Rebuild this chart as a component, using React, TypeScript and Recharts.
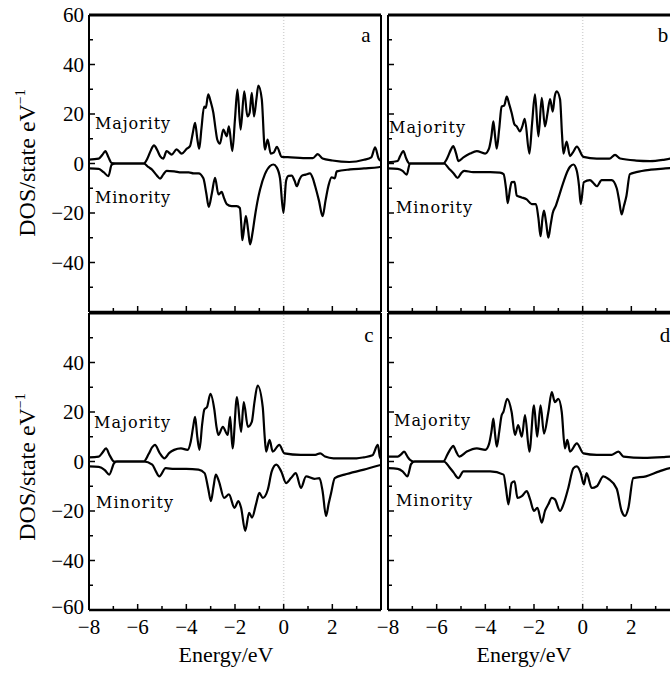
import React from 'react';
import { LineChart, Line, XAxis, YAxis, ReferenceLine } from 'recharts';

// ---------- axis ticks ----------
const X_TICKS = [-8, -7, -6, -5, -4, -3, -2, -1, 0, 1, 2, 3, 4];
const Y_TICKS = [-60, -50, -40, -30, -20, -10, 0, 10, 20, 30, 40, 50, 60];
const PANEL_LETTERS = ['a', 'b', 'c', 'd'];
const SERIES_NAMES = ['Majority', 'Minority'];
const X_TITLE = 'Energy/eV';
const Y_TITLE = 'DOS/state eV';

// ---------- panel a ----------
const aMajE = [-8.0, -7.6, -7.45, -7.33, -7.2, -7.07, -6.9, -5.75, -5.6, -5.45, -5.33, -5.2, -5.08, -4.95, -4.81, -4.6, -4.4, -4.19, -3.98, -3.85, -3.74, -3.64, -3.55, -3.47, -3.38, -3.27, -3.2, -3.1, -3.0, -2.89, -2.8, -2.73, -2.62, -2.48, -2.34, -2.25, -2.11, -2.0, -1.9, -1.77, -1.62, -1.49, -1.4, -1.31, -1.22, -1.12, -1.04, -0.9, -0.77, -0.66, -0.53, -0.4, -0.28, -0.08, 0.3, 0.8, 1.2, 1.4, 1.6, 2.0, 2.7, 3.3, 3.6, 3.76, 3.9, 4.0];
const aMajV = [1.6, 2.0, 3.5, 5.0, 2.5, 0.2, 0, 0, 2, 5.5, 7.3, 5.5, 3, 2, 5, 3.6, 5.7, 4, 6, 7, 12, 16.4, 10, 6, 14, 23, 22.5, 27.9, 25, 20.5, 14, 9.7, 8, 13.7, 11, 15, 5, 18, 29.9, 13.7, 29.2, 19, 20.5, 28.5, 19, 26, 31.5, 26, 5.6, 9.7, 4, 4.5, 6.7, 2.7, 2.5, 2.2, 2.2, 3.8, 2, 1.2, 0.6, 1.5, 2.5, 6.5, 2, 1];
const aMinE = [-8.0, -7.6, -7.4, -7.2, -7.07, -6.9, -5.75, -5.55, -5.42, -5.2, -5.08, -4.95, -4.81, -4.5, -4.2, -3.9, -3.7, -3.5, -3.3, -3.18, -3.08, -2.95, -2.82, -2.68, -2.55, -2.45, -2.34, -2.14, -1.93, -1.8, -1.74, -1.7, -1.6, -1.55, -1.46, -1.38, -1.28, -1.18, -1.05, -0.97, -0.77, -0.56, -0.42, -0.29, -0.15, -0.01, 0.1, 0.2, 0.33, 0.45, 0.54, 0.65, 0.74, 0.9, 1.08, 1.2, 1.29, 1.45, 1.6, 1.72, 1.84, 1.97, 2.1, 2.18, 2.73, 3.3, 3.9, 4.0];
const aMinV = [-2, -2.2, -3.5, -5.1, -0.5, 0, 0, -1.5, -2.4, -5, -6.1, -4.5, -3, -3.2, -3.6, -3.6, -4, -4, -6, -12, -17.5, -12, -5.8, -12.5, -11.5, -14, -16.4, -17.2, -17.2, -18, -25, -31, -24, -21.3, -27, -32.7, -28, -21.3, -14, -10.5, -4.3, -1, -0.4, -1.5, -6, -20, -7, -5, -4.9, -7, -9.2, -6.5, -5, -4.5, -4, -6, -9, -15, -21.3, -15, -9, -5.6, -6, -3.2, -2.4, -2, -1.5, -1.3];

// ---------- panel b ----------
const bMajE = [-8.0, -7.6, -7.5, -7.37, -7.25, -7.12, -5.73, -5.55, -5.42, -5.32, -5.2, -5.11, -4.9, -4.63, -4.35, -4.01, -3.85, -3.75, -3.67, -3.6, -3.53, -3.43, -3.33, -3.22, -3.12, -3.02, -2.92, -2.81, -2.71, -2.58, -2.48, -2.38, -2.19, -2.08, -1.96, -1.82, -1.68, -1.55, -1.45, -1.34, -1.23, -1.15, -1.07, -0.93, -0.85, -0.79, -0.66, -0.52, -0.4, -0.24, 0.03, 0.58, 1.1, 1.33, 1.54, 2.2, 2.77, 3.3, 3.6, 3.76, 3.9, 4.0];
const bMajV = [0.5, 1, 3, 5, 2, 0, 0, 2.5, 5.5, 7, 4, 1, 2.5, 4, 5, 4, 6, 11, 17, 11, 6, 14, 23, 23.5, 27, 24, 20.5, 16, 15, 13, 15, 18, 4, 16, 27.9, 11, 26.5, 15, 20, 26, 21, 27, 29.2, 26, 12, 4, 8.8, 3, 4.5, 6.8, 2.7, 2, 2, 3.5, 2, 1.2, 1, 1.5, 2, 6, 2, 1];
const bMinE = [-8.0, -7.6, -7.4, -7.23, -7.1, -5.7, -5.5, -5.3, -5.14, -5.0, -4.87, -4.5, -3.8, -3.4, -3.25, -3.15, -3.08, -2.98, -2.92, -2.8, -2.71, -2.51, -2.3, -2.09, -1.92, -1.82, -1.73, -1.65, -1.59, -1.5, -1.41, -1.32, -1.23, -1.1, -1.0, -0.79, -0.62, -0.52, -0.38, -0.24, -0.15, -0.08, 0.05, 0.3, 0.45, 0.58, 0.78, 1.19, 1.4, 1.5, 1.6, 1.7, 1.8, 1.94, 2.2, 2.8, 3.4, 4.0];
const bMinV = [-2, -2.2, -3, -4.5, 0, 0, -2, -4, -5.8, -4, -3, -3.5, -3.5, -3.7, -4.3, -10, -16, -10, -7.5, -7.4, -13, -13.7, -14.5, -16.4, -16.4, -22, -29.4, -22, -19, -24, -30, -25, -20, -17, -14, -7.5, -3, -1.3, -0.4, -3, -9, -16.4, -7.5, -6.7, -8, -9.2, -6.7, -6.7, -10, -15, -20.6, -17, -13, -4.3, -3.5, -2.5, -2, -1.5];

// ---------- panel c ----------
const cMajE = [-8.0, -7.6, -7.45, -7.3, -7.15, -6.97, -5.75, -5.55, -5.4, -5.29, -5.1, -4.9, -4.7, -4.5, -4.22, -3.95, -3.82, -3.72, -3.64, -3.55, -3.46, -3.35, -3.26, -3.15, -3.01, -2.85, -2.76, -2.68, -2.5, -2.3, -2.2, -2.1, -1.92, -1.75, -1.64, -1.47, -1.31, -1.2, -1.07, -0.86, -0.78, -0.72, -0.58, -0.45, -0.18, 0.03, 0.7, 1.3, 1.5, 1.7, 2.05, 3.0, 3.3, 3.65, 3.87, 3.95, 4.0];
const cMajV = [1.7, 2, 3.5, 5.3, 2.5, 0, 0, 3, 5.8, 6.7, 3.5, 1.3, 3.5, 4.7, 5.3, 4.7, 8, 14, 18, 10, 4.7, 15, 21, 22, 27.3, 21, 14, 10.7, 14, 10.7, 18, 5.3, 26, 12, 24, 14, 16, 24, 30.7, 22, 10, 4, 8.7, 4, 6.7, 3.3, 2.7, 2.7, 3.3, 2, 1.3, 1.3, 1.7, 2.5, 6.7, 2, 1];
const cMinE = [-8.0, -7.6, -7.35, -7.17, -6.97, -6.85, -5.75, -5.4, -5.25, -5.11, -4.85, -4.5, -4.0, -3.5, -3.25, -3.1, -2.99, -2.88, -2.79, -2.66, -2.45, -2.25, -2.02, -1.86, -1.75, -1.58, -1.42, -1.3, -1.13, -1.0, -0.86, -0.65, -0.49, -0.3, -0.1, 0.1, 0.3, 0.5, 0.71, 0.92, 1.26, 1.47, 1.6, 1.74, 1.85, 1.95, 2.1, 2.5, 3.3, 3.9, 4.0];
const cMinV = [-2, -2.2, -3.5, -5.3, -0.7, 0, 0, -1.3, -4, -6, -2.7, -3, -3, -3.3, -4.7, -11, -16, -10, -5.3, -8, -14.7, -13.3, -18.7, -16, -18.7, -28, -20.7, -22.7, -17, -12.7, -14.7, -11.3, -4, -1.3, -4, -8.7, -6.7, -4.7, -10.7, -6, -7, -6.7, -12, -22, -17, -12.7, -6.7, -5.3, -3.3, -1.6, -1.4];

// ---------- panel d ----------
const dMajE = [-8.0, -7.6, -7.45, -7.34, -7.2, -7.1, -6.95, -5.73, -5.55, -5.4, -5.32, -5.2, -5.07, -4.76, -4.35, -4.0, -3.85, -3.75, -3.67, -3.6, -3.53, -3.43, -3.33, -3.26, -3.1, -2.92, -2.78, -2.65, -2.5, -2.37, -2.19, -2.0, -1.87, -1.73, -1.59, -1.41, -1.27, -1.14, -1.0, -0.86, -0.73, -0.63, -0.52, -0.24, 0.03, 0.58, 1.2, 1.47, 1.68, 2.5, 3.3, 3.6, 4.0];
const dMajV = [2, 2, 3, 4, 2, 0.7, 0, 0, 3, 5.5, 6.3, 4, 2, 4, 5.3, 4.7, 7, 12, 17.3, 11, 6, 12, 18.7, 20, 25.3, 20, 10.7, 14.7, 10, 18.7, 4, 22.7, 10, 22.7, 11.3, 20, 28, 24, 25.3, 20, 5.3, 8.7, 4, 7.3, 3.3, 2.7, 2.7, 4, 2, 1.5, 1.8, 2, 2];
const dMinE = [-8.0, -7.6, -7.4, -7.2, -7.05, -6.9, -5.7, -5.5, -5.3, -5.11, -4.9, -4.5, -3.8, -3.25, -3.15, -3.05, -2.92, -2.8, -2.68, -2.5, -2.3, -2.16, -2.0, -1.86, -1.68, -1.55, -1.41, -1.27, -1.14, -0.93, -0.79, -0.59, -0.38, -0.24, -0.08, 0.05, 0.16, 0.37, 0.58, 0.85, 1.05, 1.4, 1.6, 1.74, 1.88, 2.08, 2.6, 3.15, 3.6, 4.0];
const dMinV = [-2.7, -3, -4, -6, -1, 0, 0, -2, -4.5, -6.7, -4, -4, -4, -5.3, -11, -17.3, -8.7, -8, -14.7, -14, -12, -15.3, -20, -18.7, -24.7, -20, -17.3, -14.7, -15.3, -20, -17.3, -10.7, -2.7, -2, -4.7, -9.3, -4.7, -10.7, -10, -6, -7, -11, -20, -22, -18.7, -6.7, -6, -4, -2.7, -2.5];

const toPoints = (es: number[], vs: number[]) => es.map((e, i) => ({ e, v: vs[i] }));

const SERIF = '"Liberation Serif", "Times New Roman", Times, serif';
const LABEL_FONT = '"DejaVu Serif", serif';
const fmt = (v: number) => (v < 0 ? '\u2212' + Math.abs(v) : String(v));

// plot area size (px)
const PW = 292;
const PH = 297;
const YW = 70; // left y axis width
const MT = 15; // space above the plot
const MR = 10; // space right of the plot
const MB = 45; // space below the plot

function XTick(props: any) {
  const { x, y, payload, showLabel } = props;
  const v = payload.value;
  const major = v % 2 === 0;
  return (
    <g>
      <line x1={x} y1={y} x2={x} y2={y - (major ? 6 : 4)} stroke="#000" strokeWidth={1.5} />
      {showLabel && major && v < 4 ? (
        <text x={x} y={y + 24} textAnchor="middle" fontSize={21} fontFamily={SERIF} fill="#000">
          {fmt(v)}
        </text>
      ) : null}
    </g>
  );
}

function YTick(props: any) {
  const { x, y, payload, showLabel, skip } = props;
  const v = payload.value;
  const major = v % 20 === 0;
  return (
    <g>
      <line x1={x} y1={y} x2={x + (major ? 6 : 4)} y2={y} stroke="#000" strokeWidth={1.5} />
      {showLabel && major && v !== skip ? (
        <text x={x - 5} y={y} dy={v === -60 ? '0.2em' : '0.35em'} textAnchor="end" fontSize={21} fontFamily={SERIF} fill="#000">
          {fmt(v)}
        </text>
      ) : null}
    </g>
  );
}

type PanelProps = {
  plotLeft: number;
  plotTop: number;
  maj: { e: number; v: number }[];
  min: { e: number; v: number }[];
  showX: boolean;
  showY: boolean;
  skipY: number;
};

function Panel({ plotLeft, plotTop, maj, min, showX, showY, skipY }: PanelProps) {
  return (
    <div style={{ position: 'absolute', left: plotLeft - YW, top: plotTop - MT }}>
      <LineChart
        width={YW + PW + MR}
        height={MT + PH + MB}
        margin={{ top: MT - 1, right: MR - 1, bottom: MB - 1, left: 0 }}
      >
        <XAxis
          dataKey="e"
          type="number"
          domain={[-8, 4]}
          ticks={X_TICKS}
          interval={0}
          allowDataOverflow
          height={1}
          tickSize={0}
          tickMargin={0}
          tickLine={false}
          axisLine={{ stroke: '#000', strokeWidth: 2.5 }}
          tick={(p: any) => <XTick {...p} showLabel={showX} />}
        />
        <XAxis
          xAxisId="top"
          orientation="top"
          type="number"
          domain={[-8, 4]}
          height={1}
          tick={false}
          tickLine={false}
          axisLine={{ stroke: '#000', strokeWidth: 3 }}
        />
        <YAxis
          type="number"
          domain={[-60, 60]}
          ticks={Y_TICKS}
          interval={0}
          allowDataOverflow
          width={YW}
          tickSize={0}
          tickMargin={0}
          tickLine={false}
          axisLine={{ stroke: '#000', strokeWidth: 2 }}
          tick={(p: any) => <YTick {...p} showLabel={showY} skip={skipY} />}
        />
        <YAxis
          yAxisId="r"
          orientation="right"
          type="number"
          domain={[-60, 60]}
          width={1}
          tick={false}
          tickLine={false}
          axisLine={{ stroke: '#000', strokeWidth: 2 }}
        />
        <ReferenceLine x={0} stroke="#d4d4d4" strokeWidth={1.5} strokeDasharray="1 2" />
        <Line data={maj} dataKey="v" type="monotone" stroke="#000" strokeWidth={2.2} dot={false} isAnimationActive={false} />
        <Line data={min} dataKey="v" type="monotone" stroke="#000" strokeWidth={2.2} dot={false} isAnimationActive={false} />
      </LineChart>
    </div>
  );
}

export default function App() {
  const textStyle = { fontFamily: SERIF, fill: '#000' } as const;
  const lab = { fontSize: 16, fontFamily: LABEL_FONT, fill: '#000', lengthAdjust: 'spacing' } as const;
  return (
    <div style={{ position: 'absolute', left: 0, top: 0, width: 670, height: 673, overflow: 'hidden', background: '#fff' }}>
      <Panel plotLeft={89} plotTop={15} maj={toPoints(aMajE, aMajV)} min={toPoints(aMinE, aMinV)} showX={false} showY={true} skipY={-60} />
      <Panel plotLeft={388} plotTop={15} maj={toPoints(bMajE, bMajV)} min={toPoints(bMinE, bMinV)} showX={false} showY={false} skipY={-60} />
      <Panel plotLeft={89} plotTop={313} maj={toPoints(cMajE, cMajV)} min={toPoints(cMinE, cMinV)} showX={true} showY={true} skipY={60} />
      <Panel plotLeft={388} plotTop={313} maj={toPoints(dMajE, dMajV)} min={toPoints(dMinE, dMinV)} showX={true} showY={false} skipY={60} />
      <svg width={670} height={673} style={{ position: 'absolute', left: 0, top: 0, pointerEvents: 'none' }}>
        {/* panel letters */}
        <text x={366} y={42} textAnchor="middle" fontSize={21} {...textStyle}>{PANEL_LETTERS[0]}</text>
        <text x={663} y={42} textAnchor="middle" fontSize={21} {...textStyle}>{PANEL_LETTERS[1]}</text>
        <text x={369} y={342} textAnchor="middle" fontSize={21} {...textStyle}>{PANEL_LETTERS[2]}</text>
        <text x={665} y={342} textAnchor="middle" fontSize={21} {...textStyle}>{PANEL_LETTERS[3]}</text>
        {/* series labels */}
        <text x={95} y={129} textLength={75} {...lab}>{SERIES_NAMES[0]}</text>
        <text x={95} y={203} textLength={75} {...lab}>{SERIES_NAMES[1]}</text>
        <text x={389} y={133} textLength={76} {...lab}>{SERIES_NAMES[0]}</text>
        <text x={396} y={213} textLength={76} {...lab}>{SERIES_NAMES[1]}</text>
        <text x={94} y={428} textLength={76} {...lab}>{SERIES_NAMES[0]}</text>
        <text x={96} y={508} textLength={77} {...lab}>{SERIES_NAMES[1]}</text>
        <text x={394} y={426} textLength={76} {...lab}>{SERIES_NAMES[0]}</text>
        <text x={396} y={506} textLength={76} {...lab}>{SERIES_NAMES[1]}</text>
        {/* x titles */}
        <text x={226} y={662} textAnchor="middle" fontSize={22} {...textStyle}>{X_TITLE}</text>
        <text x={524} y={662} textAnchor="middle" fontSize={22} {...textStyle}>{X_TITLE}</text>
        {/* y titles */}
        <text transform="translate(35,163) rotate(-90)" textAnchor="middle" fontSize={24} {...textStyle}>
          {Y_TITLE}
          <tspan dy={-10} fontSize={14}>{'\u22121'}</tspan>
        </text>
        <text transform="translate(35,467) rotate(-90)" textAnchor="middle" fontSize={24} {...textStyle}>
          {Y_TITLE}
          <tspan dy={-10} fontSize={14}>{'\u22121'}</tspan>
        </text>
      </svg>
    </div>
  );
}
